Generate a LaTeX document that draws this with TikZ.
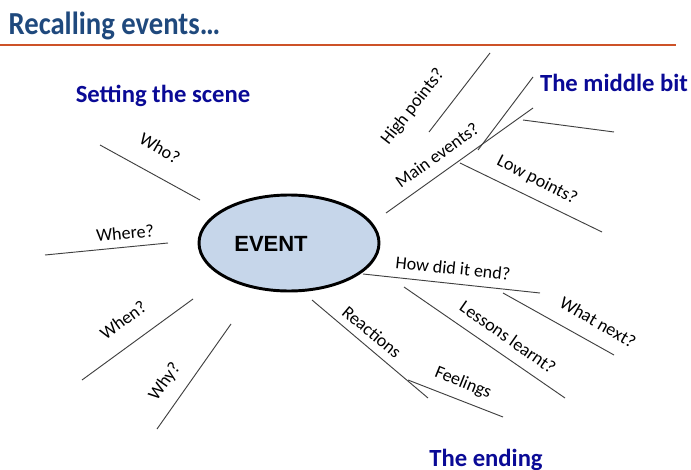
\documentclass[tikz,border=0pt]{standalone}
\usepackage{fontspec}
\setmainfont{Carlito}
\newfontfamily\eventfont{Liberation Sans}
\usetikzlibrary{
shapes.geometric,
}
\definecolor{titleblue}{RGB}{31,73,125}
\definecolor{headblue}{RGB}{10,10,150}
\definecolor{rulered}{RGB}{205,82,40}
\definecolor{eventfill}{RGB}{198,214,234}
\tikzset{
x=0.75pt, y=-0.75pt,
every node/.style={align=center, inner sep=1pt},
spoke/.style={draw=black!75, line width=0.7pt},
label text/.style={font=\fontsize{13.5}{16}\selectfont},
heading/.style={font=\fontsize{18.5}{21}\selectfont\bfseries, text=headblue},
event/.style={ellipse, draw, line width=2.2pt, fill=eventfill, inner sep=0pt,
  minimum width=135pt, minimum height=72pt},
}

\begin{document}
\begin{tikzpicture}
\useasboundingbox (0,0) rectangle (691,470);
% title and rule
\node (title) [anchor=base west, yscale=1.12, text=titleblue, font=\fontsize{21.5}{24}\selectfont\bfseries] at (7,35) {Recalling events…};
\coordinate (ruleL) at (0,45);
\coordinate (ruleR) at (676,45);
\draw [rulered, line width=1.6pt] (ruleL) -- (ruleR);

% centre
\node (event) [event] at (289,243) {};
\node (eventtext) [font=\eventfont\fontsize{16.5}{18}\selectfont\bfseries] at (271,244) {EVENT};

% spoke end points
\coordinate (who1) at (100,145);   \coordinate (who2) at (200,200);
\coordinate (where1) at (45,255);  \coordinate (where2) at (168,243);
\coordinate (when1) at (82,380);   \coordinate (when2) at (193,299);
\coordinate (why1) at (157,429);   \coordinate (why2) at (231,324);
\coordinate (high1) at (429,132);  \coordinate (high2) at (490,53);
\coordinate (main1) at (386,213);  \coordinate (main2) at (533,108);
\coordinate (mid1) at (478,150);   \coordinate (mid2) at (533,77);
\coordinate (side1) at (523,120);  \coordinate (side2) at (614,132);
\coordinate (low1) at (460,163);   \coordinate (low2) at (602,232);
\coordinate (how1) at (363,274);   \coordinate (how2) at (540,293);
\coordinate (next1) at (503,293);  \coordinate (next2) at (614,355);
\coordinate (learn1) at (404,287); \coordinate (learn2) at (565,398);
\coordinate (react1) at (312,300); \coordinate (react2) at (428,398);
\coordinate (feel1) at (408,380);  \coordinate (feel2) at (503,417);

\foreach \s in {who,where,when,why,high,main,mid,side,low,how,next,learn,react,feel}
  \draw [spoke] (\s1) -- (\s2);

% labels
\node (who) [label text, rotate=-30] at (160,148) {Who?};
\node (where) [label text, rotate=5] at (125,233) {Where?};
\node (when) [label text, rotate=36] at (123,320) {When?};
\node (why) [label text, rotate=55] at (165,382) {Why?};
\node (high) [label text, rotate=52] at (413,107) {High points?};
\node (main) [label text, rotate=36] at (437,155) {Main events?};
\node (low) [label text, rotate=-27] at (537,180) {Low points?};
\node (how) [label text, rotate=-6] at (453,268) {How did it end?};
\node (next) [label text, rotate=-30] at (598,322) {What next?};
\node (learn) [label text, rotate=-35] at (508,337) {Lessons learnt?};
\node (react) [label text, rotate=-40] at (372,332) {Reactions};
\node (feel) [label text, rotate=-22] at (463,383) {Feelings};

% headings
\node (scene) [heading] at (163,96) {Setting the scene};
\node (middle) [heading] at (614,83) {The middle bit};
\node (ending) [heading] at (486,460) {The ending};
\end{tikzpicture}
\end{document}
